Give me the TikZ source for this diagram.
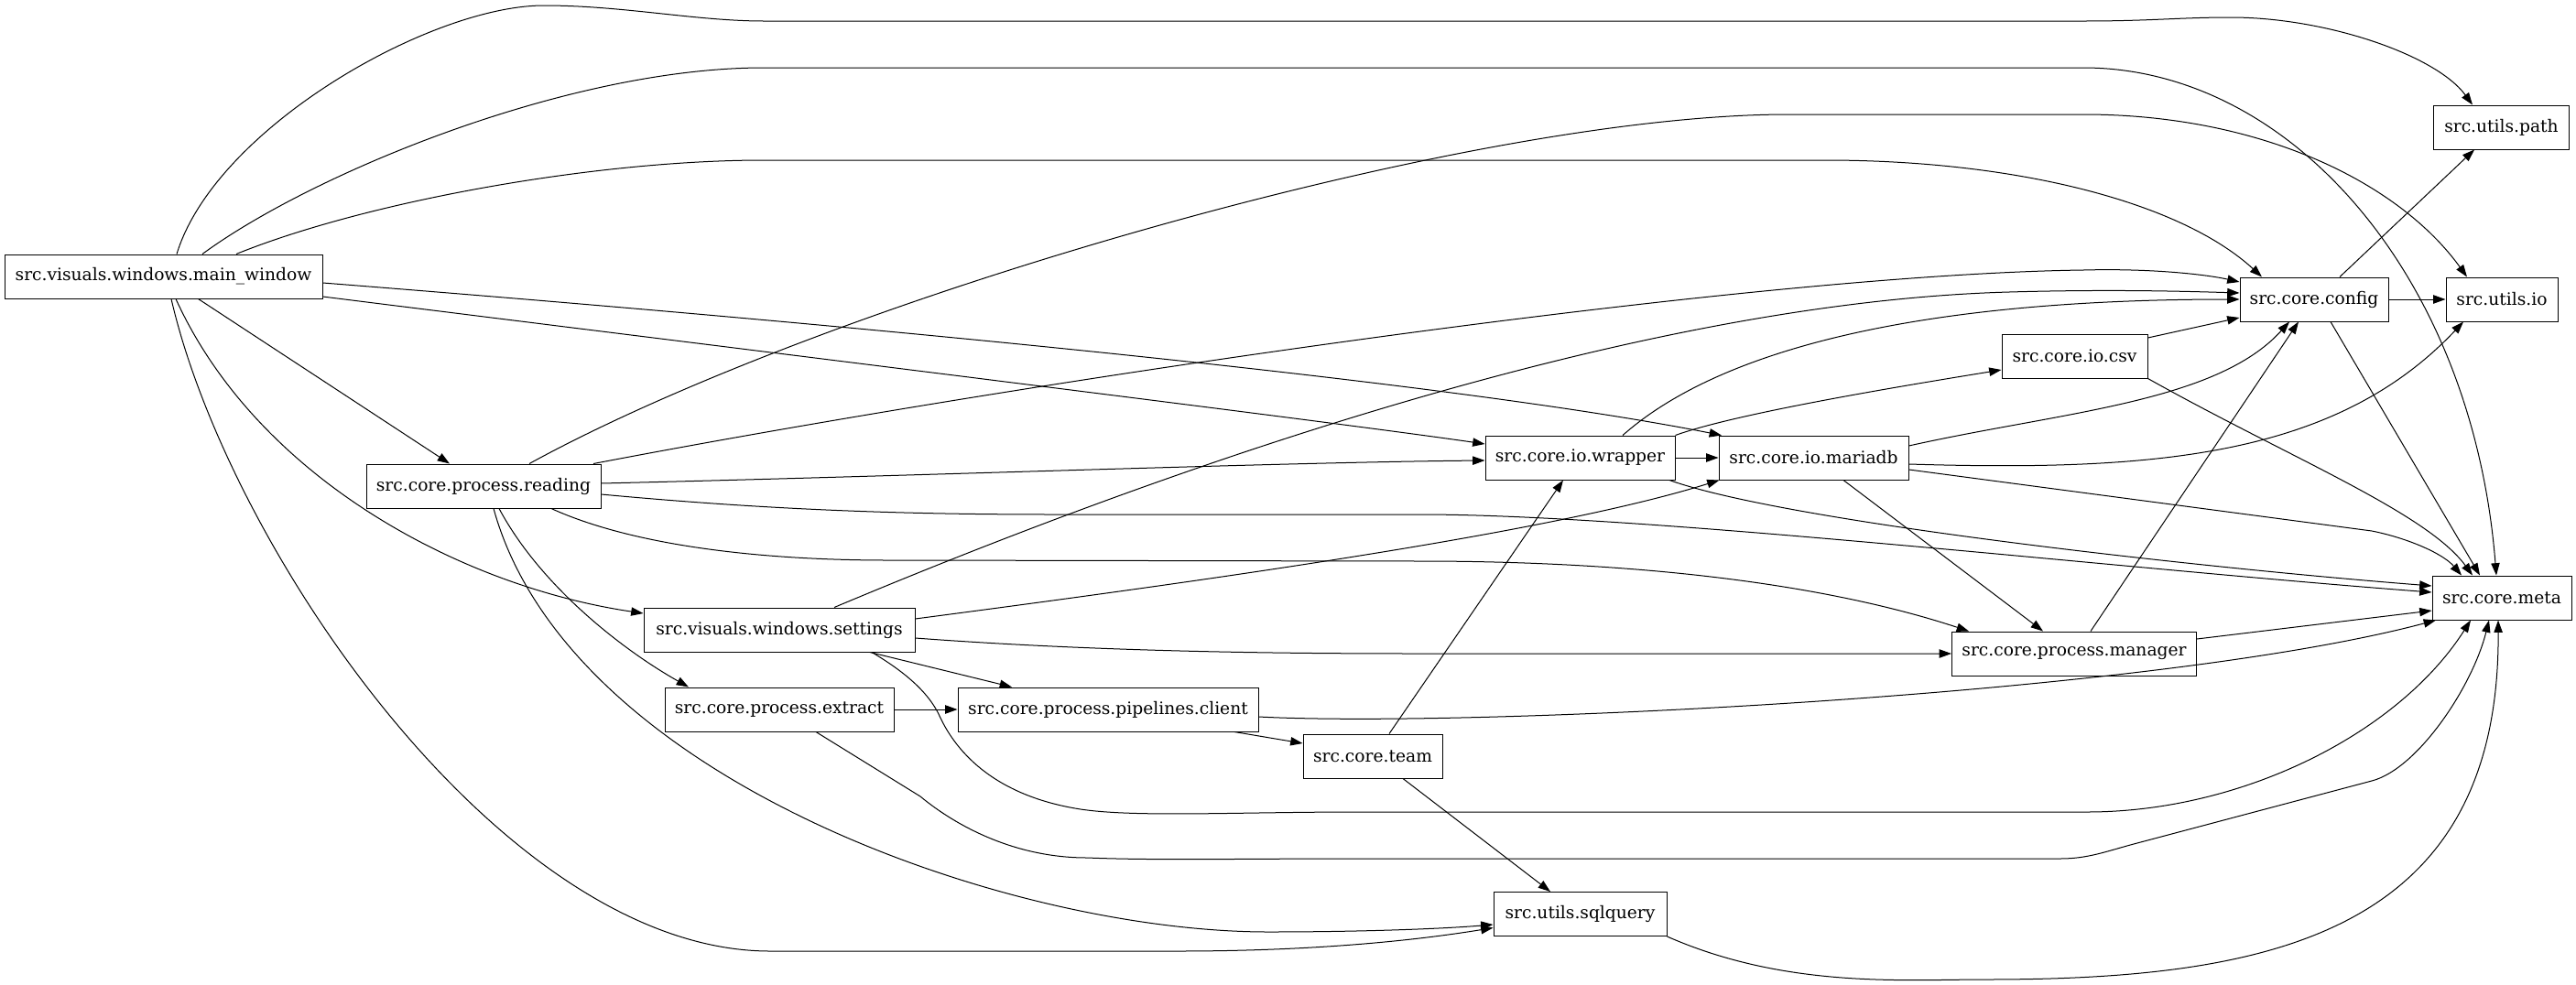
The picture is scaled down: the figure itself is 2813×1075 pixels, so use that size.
\documentclass[tikz,border=0pt]{standalone}
\usepackage{fontspec}
\setmainfont{DejaVu Serif}
\usetikzlibrary{calc,arrows.meta}
\tikzset{
  mod/.style={draw, line width=0.75pt, rectangle, inner xsep=0pt, inner ysep=0pt,
    minimum height=36pt, font=\fontsize{14}{16}\selectfont, anchor=center},
  dep/.style={draw, line width=0.75pt, -{Triangle[length=10pt,width=7pt]}}
}
\begin{document}
\begin{tikzpicture}[x=0.75pt,y=-0.75pt]
\useasboundingbox (0,0) rectangle (2813,1075);
\fill[white] (0,0) rectangle (2813,1075);
% nodes
\node[mod, minimum width=260.25pt] (main) at (178.5,302) {src.visuals.windows.main\_window};
\node[mod, minimum width=192pt] (reading) at (528,531) {src.core.process.reading};
\node[mod, minimum width=222pt] (settings) at (851,688) {src.visuals.windows.settings};
\node[mod, minimum width=187.5pt] (extract) at (851,775) {src.core.process.extract};
\node[mod, minimum width=246pt] (pipelines) at (1210,775) {src.core.process.pipelines.client};
\node[mod, minimum width=114pt] (team) at (1499,826) {src.core.team};
\node[mod, minimum width=141.75pt] (sqlquery) at (1725.5,998.5) {src.utils.sqlquery};
\node[mod, minimum width=155.25pt] (wrapper) at (1725.5,500) {src.core.io.wrapper};
\node[mod, minimum width=155.25pt] (mariadb) at (1980.5,500) {src.core.io.mariadb};
\node[mod, minimum width=119.25pt] (csv) at (2265.5,389) {src.core.io.csv};
\node[mod, minimum width=121.5pt] (config) at (2527,327) {src.core.config};
\node[mod, minimum width=91.5pt] (uio) at (2732,327) {src.utils.io};
\node[mod, minimum width=111pt] (path) at (2731.5,139) {src.utils.path};
\node[mod, minimum width=114pt] (meta) at (2732,653) {src.core.meta};
\node[mod, minimum width=200.25pt] (manager) at (2265,714) {src.core.process.manager};
% edges from main_window
\draw[dep] ($(main.north)+(14.5,0)$) .. controls (235,140) and (470,6) .. (594,6) .. controls (680,6) and (760,23) .. (834,23) -- (2275,23) .. controls (2350,23) and (2380,19) .. (2436,19) .. controls (2540,19) and (2660,60) .. ($(path.north)+(-31.5,0)$);
\draw[dep] ($(main.north)+(42.5,0)$) .. controls (340,190) and (620,74) .. (834,74) -- (2275,74) .. controls (2500,74) and (2700,300) .. ($(meta.north)+(-6,0)$);
\draw[dep] ($(main.north)+(79.5,0)$) .. controls (400,220) and (650,175) .. (834,175) -- (1993,175) .. controls (2200,175) and (2380,220) .. ($(config.north)+(-57,0)$);
\draw[dep] ($(main.east)+(0,7)$) .. controls (1000,360) and (1600,420) .. ($(mariadb.north)+(-100.5,0)$);
\draw[dep] ($(main.east)+(0,22)$) .. controls (800,380) and (1450,460) .. ($(wrapper.west)+(0,-15)$);
\draw[dep] ($(main.south)+(38,0)$) -- ($(reading.north)+(-37,0)$);
\draw[dep] ($(main.south)+(13.5,0)$) .. controls (280,520) and (500,640) .. ($(settings.west)+(0,-18)$);
\draw[dep] ($(main.south)+(8.5,0)$) .. controls (250,600) and (550,1039) .. (841,1039) -- (1286,1039) .. controls (1450,1039) and (1560,1025) .. ($(sqlquery.west)+(0,15)$);
% edges from reading
\draw[dep] ($(reading.north)+(50,0)$) .. controls (900,330) and (1600,125) .. (1953,125) -- (2275,125) .. controls (2470,125) and (2620,200) .. ($(uio.north)+(-38,0)$);
\draw[dep] ($(reading.north)+(120,0)$) .. controls (1100,420) and (1900,300) .. (2275,295) .. controls (2350,293) and (2410,300) .. ($(config.west)+(0,-19)$);
\draw[dep] ($(reading.east)+(0,-3)$) .. controls (1000,520) and (1400,505) .. ($(wrapper.west)+(0,3)$);
\draw[dep] ($(reading.east)+(0,9)$) .. controls (850,558) and (1000,562) .. (1153,562) -- (1550,562) .. controls (1800,562) and (2300,620) .. ($(meta.west)+(0,-6)$);
\draw[dep] ($(reading.south)+(74,0)$) .. controls (700,600) and (850,612) .. (970,612) -- (1550,613) .. controls (1800,613) and (2000,640) .. ($(manager.north)+(-115,0)$);
\draw[dep] ($(reading.south)+(17,0)$) .. controls (590,640) and (680,710) .. ($(extract.north)+(-99,0)$);
\draw[dep] ($(reading.south)+(11,0)$) .. controls (620,850) and (1100,1018) .. (1385,1018) .. controls (1480,1018) and (1570,1015) .. ($(sqlquery.west)+(0,11.5)$);
% edges from settings
\draw[dep] ($(settings.north)+(60,0)$) .. controls (1300,500) and (1800,330) .. (2194,319) .. controls (2300,316) and (2380,318) .. ($(config.west)+(0,-7)$);
\draw[dep] ($(settings.east)+(0,-12)$) .. controls (1350,630) and (1700,580) .. ($(mariadb.south)+(-103,0)$);
\draw[dep] ($(settings.east)+(0,9)$) .. controls (1200,712) and (1400,714) .. (1550,714) -- (manager.west);
\draw[dep] ($(settings.south)+(99,0)$) -- ($(pipelines.north)+(-105,0)$);
\draw[dep] ($(settings.south)+(101,0)$) .. controls (995,738) and (1015,760) .. (1025,780) .. controls (1045,825) and (1090,870) .. (1180,884) .. controls (1240,893) and (1350,887) .. (1484,887) -- (2279,887) .. controls (2450,887) and (2620,800) .. ($(meta.south)+(-34,0)$);
% edges from extract
\draw[dep] (extract.east) -- (pipelines.west);
\draw[dep] ($(extract.south)+(40,0)$) -- (1005,870) .. controls (1035,895) and (1100,937) .. (1187,937) .. controls (1260,940) and (1350,938) .. (1484,938) -- (2250,938) .. controls (2280,938) and (2300,930) .. (2330,922) -- (2590,853) .. controls (2640,840) and (2700,750) .. ($(meta.south)+(-14,0)$);
% edges from pipelines
\draw[dep] ($(pipelines.south)+(138,0)$) -- ($(team.west)+(0,-14)$);
\draw[dep] ($(pipelines.east)+(0,8)$) .. controls (1600,795) and (2350,760) .. ($(meta.south)+(-72,0)$);
% edges from team
\draw[dep] ($(team.north)+(18,0)$) -- ($(wrapper.south)+(-18.5,0)$);
\draw[dep] ($(team.south)+(33,0)$) -- ($(sqlquery.north)+(-32.5,0)$);
% edges from sqlquery
\draw[dep] (sqlquery.south east) .. controls (1950,1080) and (2080,1070) .. (2168,1070) .. controls (2480,1070) and (2730,1020) .. ($(meta.south)+(-4,0)$);
% edges from wrapper
\draw[dep] ($(wrapper.north)+(46.5,0)$) .. controls (1880,380) and (2100,327) .. (config.west);
\draw[dep] (wrapper.north east) .. controls (1900,450) and (2100,418) .. ($(csv.west)+(0,15)$);
\draw[dep] (wrapper.east) -- (mariadb.west);
\draw[dep] ($(wrapper.south)+(97.5,0)$) .. controls (1950,570) and (2400,620) .. ($(meta.west)+(0,-13)$);
% edges from mariadb
\draw[dep] ($(mariadb.east)+(0,-13)$) .. controls (2250,450) and (2420,440) .. ($(config.south)+(-27,0)$);
\draw[dep] ($(mariadb.east)+(0,7)$) .. controls (2350,515) and (2550,500) .. ($(uio.south)+(-42,0)$);
\draw[dep] ($(mariadb.east)+(0,13)$) -- (2590,580) .. controls (2630,588) and (2668,605) .. ($(meta.north)+(-44,0)$);
\draw[dep] ($(mariadb.south)+(32.5,0)$) -- ($(manager.north)+(-34,0)$);
% edges from csv
\draw[dep] ($(csv.east)+(0,-20)$) -- ($(config.west)+(0,20)$);
\draw[dep] (csv.south east) .. controls (2500,500) and (2650,560) .. ($(meta.north)+(-32,0)$);
% edges from config
\draw[dep] (config.east) -- (uio.west);
\draw[dep] ($(config.north)+(28,0)$) -- ($(path.south)+(-29.5,0)$);
\draw[dep] ($(config.south)+(18,0)$) -- ($(meta.north)+(-24,0)$);
% edges from manager
\draw[dep] ($(manager.north)+(18,0)$) -- ($(config.south)+(-17,0)$);
\draw[dep] ($(manager.east)+(0,-16)$) -- ($(meta.west)+(0,14)$);
\end{tikzpicture}
\end{document}
